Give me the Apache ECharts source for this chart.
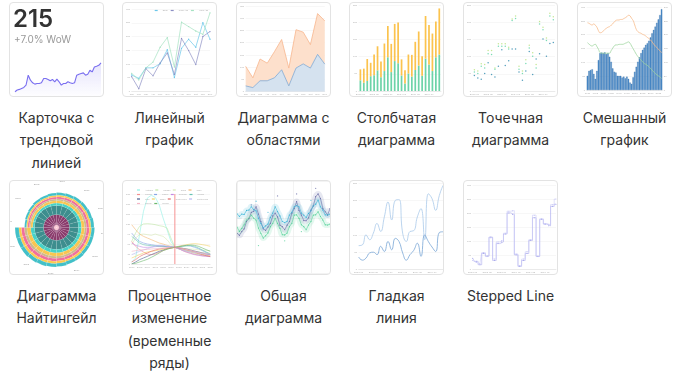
<!DOCTYPE html>
<html><head><meta charset="utf-8">
<script src="https://cdn.jsdelivr.net/npm/echarts@6/dist/echarts.min.js"></script>
<style>
html,body{margin:0;padding:0;background:#fff;width:684px;height:389px;overflow:hidden}
body{font-family:Inter,"Noto Sans",sans-serif;position:relative}
.card{position:absolute;box-sizing:border-box;width:95px;height:95px;border:1px solid #e3e3e3;border-radius:4px;overflow:hidden;background:#fff}
.chart{position:absolute;left:0;top:0;width:93px;height:93px}
.label{position:absolute;width:120px;text-align:center;font-size:14px;line-height:22.3px;color:#333}
.kpi{position:absolute;left:3px;top:3px;font-size:24px;font-weight:600;color:#333;line-height:26px;z-index:2}
.kpisub{position:absolute;left:4px;top:30px;font-size:10px;color:#9a9a9a;line-height:12px;z-index:2}
</style></head><body>
<script>
// ---------- titles ----------
const titles = [
  ['Карточка с','трендовой','линией'],
  ['Линейный','график'],
  ['Диаграмма с','областями'],
  ['Столбчатая','диаграмма'],
  ['Точечная','диаграмма'],
  ['Смешанный','график'],
  ['Диаграмма','Найтингейл'],
  ['Процентное','изменение','(временные','ряды)'],
  ['Общая','диаграмма'],
  ['Гладкая','линия'],
  ['Stepped Line']
];
const kpiValue = '215';
const kpiDelta = '+7.0% WoW';

// ---------- card 1: sparkline ----------
const spark = [25,30,32,35,38,45,75,60,52,48,50,50,52,65,65,62,58,62,55,63,55,45,50,50,55,52,50,52,75,78,80,82,75,78,90,85,100,102,105,112];

// ---------- card 2: line chart ----------
const months = ['Jan','Feb','Mar','Apr','May','Jun','Jul','Aug','Sep','Oct','Nov','Dec'];
const lineNames = ['Email','Union Ads','Video Ads'];
const lineA = [60,48,86,86,101,152,51,157,190,161,250,190];
const lineB = [54,10,83,57,104,140,62,193,149,98,200,218];
const lineC = [66,42,86,107,161,196,89,252,236,220,208,286];

// ---------- card 3: stacked area ----------
const areaBlue = [23,16,44,44,56,89,23,96,113,96,152,112];
const areaOrange = [80,40,89,72,107,124,73,157,130,96,167,177];

// ---------- card 4 / 5: bars & scatter ----------
const months24 = ['2013-01','2013-02','2013-03','2013-04','2013-05','2013-06','2013-07','2013-08','2013-09','2013-10','2013-11','2013-12','2014-01','2014-02','2014-03','2014-04','2014-05','2014-06','2014-07','2014-08','2014-09','2014-10','2014-11','2014-12'];
const barGreen = [31,24,29,43,46,60,40,58,98,55,87,81,45,22,51,42,61,74,44,94,77,58,98,106];
const barOrange = [32,41,64,39,60,70,46,80,91,82,108,118,47,38,55,63,82,99,57,124,115,109,104,134];
const scatA = [62,58,79,77,118,118,67,137,137,137,127,209,218,72,58,91,133,111,77,202,185,154,226,216];
const scatB = [55,51,72,67,108,106,63,130,130,130,122,205,211,63,51,80,125,101,67,195,178,147,218,207];
const scatC = [45,38,34,51,82,48,41,72,120,74,88,122,122,55,31,58,115,48,93,108,151,101,138,141];

// ---------- card 6: mixed ----------
const years48 = ['1970','1971','1972','1973','1974','1975','1976','1977','1978','1979','1980','1981','1982','1983','1984','1985','1986','1987','1988','1989','1990','1991','1992','1993','1994','1995','1996','1997','1998','1999','2000','2001','2002','2003','2004','2005','2006','2007','2008','2009','2010','2011','2012','2013','2014','2015','2016','2017'];
const mixBars = [51,69,72,75,58,40,69,108,133,135,133,136,130,133,120,102,78,66,63,51,51,51,45,48,42,48,40,27,22,46,66,84,102,118,133,145,153,163,169,178,190,205,217,229,243,255,271,292];
const mixOrange = [243,241,237,235,239,234,227,214,207,208,213,219,223,227,229,234,239,246,251,253,253,255,255,258,261,265,270,268,259,251,235,219,211,207,205,201,199,195,190,186,181,174,166,159,154,147,142,135];
const mixGreen = [171,166,161,159,163,165,157,147,135,133,133,133,133,133,133,142,151,159,163,163,165,165,165,166,169,171,174,169,159,149,139,129,121,114,108,102,96,93,89,84,78,72,66,60,55,51,47,42];

// ---------- card 7: polar stacked bars ----------
const polarCats = ['1998','1999','2000','2001','2002','2003','2004','2005','2006','2007','2008','2009','2010','2011','2012','2013','2014','2015','2016','2017','2018','2019','2020','2021'];
const ringCore = [2.5,2.5,2.5,2.5,2.5,2.5,2.5,2.5,2.5,2.5,2.5,2.5,2.5,2.5,2.5,2.5,2.5,2.5,2.5,2.5,2.5,2.5,2.5,2.5];
const ringPlum = [10.5,10.5,10.5,10.5,10.5,10.5,10.5,10.5,10.5,10.5,10.5,10.5,10.5,10.5,10.5,10.5,10.5,10.5,10.5,10.5,10.5,10.5,10.5,10.5];
const ringTeal = [9,9,9,9,9,9,9,9,9,9,9,9,9,9,9,9,9,9,9,9,9,9,9,9];
const ringCyan = [1.9,2.0,2.1,2.2,2.3,2.4,2.5,2.6,2.7,2.8,2.9,3.0,3.1,3.1,3.1,3.2,3.2,3.3,3.4,3.5,3.6,3.7,3.7,3.8];
const ringYellow = [2.0,2.0,2.1,2.2,2.3,2.4,2.5,2.6,2.7,2.8,2.9,3.0,3.1,3.1,3.1,3.2,3.2,3.3,3.4,3.5,3.6,3.7,3.7,3.8];
const ringKhaki = [1.3,1.4,1.4,1.5,1.5,1.6,1.7,1.7,1.8,1.9,1.9,2.0,2.1,2.1,2.1,2.1,2.1,2.2,2.3,2.3,2.4,2.5,2.5,2.5];
const ringPink = [1.6,1.7,1.8,1.9,1.9,2.0,2.1,2.2,2.3,2.3,2.4,2.5,2.6,2.6,2.6,2.7,2.7,2.7,2.8,2.9,3.0,3.1,3.1,3.1];
const ringYellow2 = [1.3,1.4,1.4,1.5,1.5,1.6,1.7,1.7,1.8,1.9,1.9,2.0,2.1,2.1,2.1,2.1,2.1,2.2,2.3,2.3,2.4,2.5,2.5,2.5];
const ringOuter = [1.9,2.0,2.1,2.2,2.3,2.4,2.5,2.6,2.7,2.8,2.9,3.0,3.1,3.1,3.1,3.2,3.2,3.3,3.4,3.5,3.6,3.7,3.7,3.8];

// ---------- card 8: percent change ----------
const years21 = ['2000','2001','2002','2003','2004','2005','2006','2007','2008','2009','2010','2011','2012','2013','2014','2015','2016','2017','2018','2019','2020'];
const pctNames = ['Australia','Canada','China','Cuba','Finland','France','Germany','Iceland','India','Japan','North Korea','South Korea','Norway','Poland'];
const pctColors = ['#8ef0e4','#bfe8a6','#d6eab6','#f3b774','#f39090','#86a6e6','#c489e4','#66c2b2','#4c5c8c','#f2d264','#e46a6a','#b8b8f2','#f4b6c6','#6cb86c'];
const pct0 = [6,18,88,158,198,206,200,178,138,103,68,50,46,42,38,35,32,29,27,25,22];
const pct1 = [68,93,113,120,121,120,118,115,113,108,78,50,46,43,41,39,37,36,34,33,32];
const pct2 = [58,78,88,90,88,86,90,86,83,73,58,50,48,47,46,45,44,43,42,41,40];
const pct3 = [118,103,90,83,78,73,68,63,60,56,53,50,46,42,39,36,33,31,29,27,25];
const pct4 = [68,53,43,36,30,28,30,35,40,45,48,50,46,40,35,32,29,27,25,24,23];
const pct5 = [93,78,68,63,60,58,56,55,54,52,51,50,53,55,56,54,50,46,40,34,28];
const pct6 = [63,56,53,50,50,51,52,53,53,52,51,50,46,40,36,32,28,26,24,23,22];
const pct7 = [83,73,63,58,56,55,54,53,53,52,51,50,52,53,54,55,53,48,42,36,30];
const pct8 = [0,6,13,18,23,28,33,38,42,46,48,50,49,47,45,42,39,36,33,30,28];
const pct9 = [18,23,28,33,36,38,40,42,44,46,48,50,53,56,58,60,61,60,58,56,53];
const pct10 = [6,13,22,28,33,38,42,45,47,48,49,50,48,45,42,39,36,32,28,25,22];
const pct11 = [28,33,38,42,46,50,54,56,56,54,52,50,45,42,39,37,35,33,31,30,28];
const pct12 = [38,40,42,43,44,45,46,47,48,49,50,50,49,47,44,41,38,35,33,31,30];
const pct13 = [0,2,6,10,14,20,26,33,40,44,48,50,52,54,56,57,56,53,48,43,38];
const pctBaseYear = '2011';

// ---------- card 9: general chart ----------
const genPurple = [2.16,2.05,2.25,2.40,2.80,2.95,3.30,3.35,3.60,3.20,2.80,2.40,2.32,2.50,2.70,3.10,3.25,3.05,2.60,2.52,2.35,2.60,2.80,3.25,3.50,3.88,3.40,3.15,2.85,2.84,3.00,3.42,3.65,4.15,4.30,4.05,3.50,3.33,3.15,3.50];
const genCyan = [3.22,3.08,3.20,3.18,3.40,3.42,3.60,3.44,3.38,2.98,2.70,2.45,2.56,2.66,3.02,3.25,3.60,3.34,3.10,2.80,2.74,2.80,3.15,3.30,3.60,3.66,3.60,3.25,3.15,3.02,3.24,3.38,3.65,3.74,3.96,3.60,3.42,3.16,3.15,3.20];
const genGreen = [2.50,2.26,2.42,2.62,2.88,2.98,3.15,2.98,2.88,2.44,2.16,1.90,2.02,2.18,2.52,2.70,2.97,2.70,2.43,2.08,2.07,2.17,2.52,2.70,3.15,3.16,2.97,2.62,2.52,2.35,2.61,2.80,3.15,3.16,3.33,3.07,2.88,2.62,2.61,2.66];
const genOutPurple = [[17,4.19],[25,4.30],[33,4.60],[6,3.70]];
const genOutCyan = [[8,3.90],[31,3.95],[13,3.30]];
const genOutGreen = [[9,1.49],[20,1.75],[27,2.25]];

// ---------- card 10: smooth ----------
const smoothUpper = [69,71,100,86,105,133,110,152,195,143,200,202,105,81,110,112,152,176,86,219,205,171,214,243];
const smoothLower = [36,27,33,48,50,43,67,52,81,57,90,81,48,27,43,55,76,38,100,81,65,52,107,109];

// ---------- card 11: stepped ----------
const stepA = [40,29,17,57,48,115,32,92,98,126,201,195,52,11,32,57,103,184,46,178,161,155,224,232];
const stepB = [32,25,21,60,46,113,37,98,103,129,207,209,55,14,37,63,106,193,48,180,163,159,230,250];
</script>
<script>
const lefts = [9,122,236,349,463,577];
const tops = [2,180];
titles.forEach((t,i)=>{
  const col=i%6,row=Math.floor(i/6);
  const card=document.createElement('div'); card.className='card';
  card.style.left=lefts[col]+'px'; card.style.top=tops[row]+'px';
  const ch=document.createElement('div'); ch.className='chart'; ch.id='c'+i; card.appendChild(ch);
  document.body.appendChild(card);
  const lab=document.createElement('div'); lab.className='label';
  lab.style.left=(lefts[col]+47.5-60)+'px'; lab.style.top=(tops[row]+105)+'px';
  t.forEach((line,k)=>{ if(k) lab.appendChild(document.createElement('br')); lab.appendChild(document.createTextNode(line)); });
  document.body.appendChild(lab);
  if(i===0){
    const a=document.createElement('div'); a.className='kpi'; a.textContent=kpiValue; card.appendChild(a);
    const b=document.createElement('div'); b.className='kpisub'; b.textContent=kpiDelta; card.appendChild(b);
  }
});

const TL = {fontSize:2.5,color:'#b0b0b0',margin:1.5};
function X(data,o){return Object.assign({type:'category',data:data,axisLine:{lineStyle:{color:'#ddd',width:0.5}},axisTick:{show:false},axisLabel:TL,splitLine:{show:false}},o||{});}
function Y(o){return Object.assign({type:'value',axisLine:{show:false},axisTick:{show:false},axisLabel:TL,splitLine:{lineStyle:{color:'#eee',width:0.5}}},o||{});}
function mk(i,opt){const c=echarts.init(document.getElementById('c'+i),null,{renderer:'canvas'});opt.animation=false;c.setOption(opt);}
const tinyLegend = {icon:'rect',itemWidth:3,itemHeight:1.2,itemGap:3,textStyle:{fontSize:2,color:'#aaa'}};

// 1
mk(0,{grid:{left:5,right:2,top:59,bottom:0},
  xAxis:{type:'category',show:false,boundaryGap:false},
  yAxis:{type:'value',min:12,max:115,show:false},
  series:[{type:'line',data:spark,showSymbol:false,lineStyle:{color:'#7a6ff0',width:1.1},
    areaStyle:{color:new echarts.graphic.LinearGradient(0,0,0,1,[{offset:0,color:'rgba(122,111,240,0.26)'},{offset:1,color:'rgba(122,111,240,0.02)'}])}}]});

// 2
const lc=['#6cc7ea','#8c8fc4','#a5e2c2'];
mk(1,{grid:{left:5,right:6,top:6,bottom:3},
  legend:Object.assign({top:1.5,right:3},tinyLegend),
  xAxis:X(months,{boundaryGap:false}),yAxis:Y({min:0,max:300,interval:50}),
  series:[lineA,lineB,lineC].map((d,k)=>({name:lineNames[k],type:'line',data:d,symbol:'circle',symbolSize:1.3,itemStyle:{color:lc[k]},lineStyle:{color:lc[k],width:0.7}}))});

// 3
mk(2,{grid:{left:6,right:4,top:3,bottom:2},
  xAxis:X(months,{boundaryGap:false}),yAxis:Y({min:0,max:350,interval:50}),
  series:[
    {type:'line',stack:'a',data:areaBlue,symbol:'none',lineStyle:{color:'#7ea8d4',width:0.8},areaStyle:{color:'#d5e2ef',opacity:1}},
    {type:'line',stack:'a',data:areaOrange,symbol:'none',lineStyle:{color:'#f7b68e',width:0.8},areaStyle:{color:'#fde0cc',opacity:1}}]});

// 4
mk(3,{grid:{left:4,right:2,top:2,bottom:5},
  xAxis:X(months24),yAxis:Y({min:0,max:250,interval:50}),
  series:[
    {type:'bar',stack:'b',data:barGreen,barWidth:'50%',itemStyle:{color:'#6dd3a8'}},
    {type:'bar',stack:'b',data:barOrange,barWidth:'50%',itemStyle:{color:'#fbc34e'}}]});

// 5
mk(4,{grid:{left:4,right:2,top:2,bottom:5},
  xAxis:X(months24),yAxis:Y({min:0,max:250,interval:50}),
  series:[[scatA,'#b8e27a'],[scatB,'#5ad3a4'],[scatC,'#2b87ad']].map(p=>({type:'scatter',data:p[0],symbolSize:1.5,itemStyle:{color:p[1]}}))});

// 6
mk(5,{grid:{left:7,right:6,top:4,bottom:6},
  xAxis:X(years48),
  yAxis:[Y({min:0,max:300,interval:50}),Y({min:0,max:300,interval:50,splitLine:{show:false}})],
  series:[
    {type:'bar',data:mixBars,barCategoryGap:'12%',itemStyle:{color:'#4f90cf',borderColor:'#2d66a0',borderWidth:0.3}},
    {type:'line',yAxisIndex:1,data:mixOrange,smooth:true,showSymbol:false,lineStyle:{color:'#f8bb8c',width:0.8}},
    {type:'line',yAxisIndex:1,data:mixGreen,smooth:true,showSymbol:false,lineStyle:{color:'#9fd69f',width:0.8}}]});

// 7
const ringColors=['#f7a3b6','#8a3b6c','#3d8e8e','#47d1c6','#f8c650','#cdb98c','#f06f9c','#fbc94f','#42c0c8'];
mk(6,{polar:{center:['50%','50%'],radius:[0,42]},
  angleAxis:{type:'category',data:polarCats,startAngle:180,axisLine:{show:false},axisTick:{show:false},splitLine:{show:false},axisLabel:{fontSize:2.5,color:'#999',interval:1,margin:3}},
  radiusAxis:{type:'value',min:0,max:42,axisLine:{show:false},axisTick:{show:false},axisLabel:{show:false},splitLine:{show:false}},
  series:[ringCore,ringPlum,ringTeal,ringCyan,ringYellow,ringKhaki,ringPink,ringYellow2,ringOuter].map((d,k)=>({type:'bar',coordinateSystem:'polar',stack:'r',data:d,barCategoryGap:'0%',itemStyle:{color:ringColors[k],borderColor:'rgba(255,255,255,0.3)',borderWidth:0.25}}))});

// 8
const pcts=[pct0,pct1,pct2,pct3,pct4,pct5,pct6,pct7,pct8,pct9,pct10,pct11,pct12,pct13];
const s8 = pcts.map((d,k)=>({name:pctNames[k],type:'line',data:d,showSymbol:false,itemStyle:{color:pctColors[k]},lineStyle:{color:pctColors[k],width:0.6}}));
s8.push({name:'base',type:'line',data:[[pctBaseYear,0],[pctBaseYear,210]],showSymbol:false,z:5,itemStyle:{color:'#f47676'},lineStyle:{color:'#f47676',width:0.8}});
mk(7,{grid:{left:8,right:5,top:13,bottom:10},
  legend:Object.assign({top:3,left:9,right:4,data:pctNames},tinyLegend,{itemGap:2.5}),
  xAxis:X(years21,{boundaryGap:false}),yAxis:Y({min:0,max:210,interval:30}),
  series:s8});

// 9
const gC=['#6c6fa8','#3db6d6','#56d19a'];
const gD=[genPurple,genCyan,genGreen];
const gO=[genOutPurple,genOutCyan,genOutGreen];
const gs=[];
gD.forEach((d,k)=>{
  gs.push({type:'line',data:d.map((v,i)=>[i,v]),smooth:true,showSymbol:false,lineStyle:{color:gC[k],width:6,opacity:0.16}});
});
gD.forEach((d,k)=>{
  gs.push({type:'line',data:d.map((v,i)=>[i,v]),symbol:'circle',symbolSize:1.2,itemStyle:{color:gC[k]},lineStyle:{color:gC[k],width:0.6}});
  gs.push({type:'scatter',data:gO[k],symbolSize:1.3,itemStyle:{color:gC[k]}});
});
mk(8,{grid:{left:0,right:-2,top:0,bottom:1},
  xAxis:{type:'value',min:0,max:39,interval:7.8,axisLine:{show:false},axisTick:{show:false},axisLabel:{show:false},splitLine:{lineStyle:{color:'#e6e6e6',width:0.5}}},
  yAxis:{type:'value',min:0,max:5,interval:1,axisLine:{show:false},axisTick:{show:false},axisLabel:{show:false},splitLine:{lineStyle:{color:'#e6e6e6',width:0.5}}},
  series:gs});

// 10
mk(9,{grid:{left:3,right:0,top:2,bottom:2},
  xAxis:X(months24,{boundaryGap:false}),yAxis:Y({min:0,max:250,interval:50}),
  series:[
    {type:'line',data:smoothUpper,smooth:true,showSymbol:false,lineStyle:{color:'#a9c9ea',width:0.8}},
    {type:'line',data:smoothLower,smooth:true,showSymbol:false,lineStyle:{color:'#78a6d6',width:0.8}}]});

// 11
mk(10,{grid:{left:2,right:1,top:4,bottom:2},
  xAxis:X(months24,{boundaryGap:false}),yAxis:Y({min:0,max:300,interval:50}),
  series:[
    {type:'line',step:'middle',data:stepA,symbol:'circle',symbolSize:1,itemStyle:{color:'#a0a0ea'},lineStyle:{color:'#a0a0ea',width:0.5}},
    {type:'line',step:'middle',data:stepB,symbol:'circle',symbolSize:1,itemStyle:{color:'#c2c2f4'},lineStyle:{color:'#c2c2f4',width:0.5}}]});
</script>
</body></html>
